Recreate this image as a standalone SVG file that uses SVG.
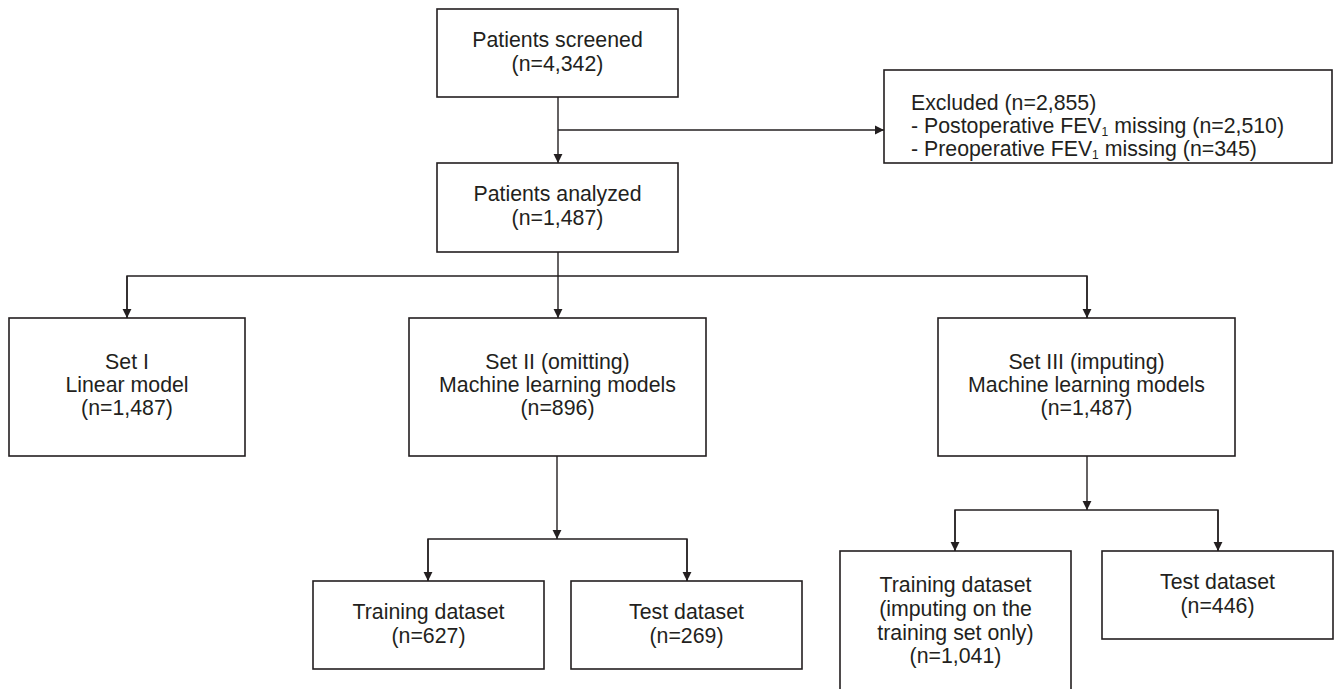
<svg xmlns="http://www.w3.org/2000/svg" width="1335" height="689" viewBox="0 0 1335 689">
<defs>
<style>
.box{fill:#fff;stroke:#231f20;stroke-width:1.6}
.ln{fill:none;stroke:#231f20;stroke-width:1.4}
text{font-family:"Liberation Sans",Arial,sans-serif;font-size:21.3px;fill:#231f20}
.c{text-anchor:middle}
.sub{font-size:12px}
</style>
<marker id="ah" markerWidth="11" markerHeight="11" refX="9.5" refY="5" orient="auto" markerUnits="userSpaceOnUse">
<path d="M0,0.3 L9.5,5 L0,9.7 Z" fill="#231f20"/>
</marker>
</defs>
<rect width="1335" height="689" fill="#fff"/>
<g id="connectors">
<path class="ln" d="M558,97 V163" marker-end="url(#ah)"/>
<path class="ln" d="M558,130 H884" marker-end="url(#ah)"/>
<path class="ln" d="M558,252 V318" marker-end="url(#ah)"/>
<path class="ln" d="M127,318 V276 H1087 V318"/>
<path class="ln" d="M127,276 V318" marker-end="url(#ah)"/>
<path class="ln" d="M1087,276 V318" marker-end="url(#ah)"/>
<path class="ln" d="M557,456 V539" marker-end="url(#ah)"/>
<path class="ln" d="M428,581 V539 H687 V581"/>
<path class="ln" d="M428,539 V581" marker-end="url(#ah)"/>
<path class="ln" d="M687,539 V581" marker-end="url(#ah)"/>
<path class="ln" d="M1087,456 V510" marker-end="url(#ah)"/>
<path class="ln" d="M955,551 V510 H1218 V551"/>
<path class="ln" d="M955,510 V551" marker-end="url(#ah)"/>
<path class="ln" d="M1218,510 V551" marker-end="url(#ah)"/>
</g>
<g id="screened">
<rect class="box" x="437" y="9" width="241" height="88"/>
<text class="c" x="557.5" y="47">Patients screened</text>
<text class="c" x="557.5" y="71">(n=4,342)</text>
</g>
<g id="excluded">
<rect class="box" x="884" y="70" width="448" height="93"/>
<text x="911" y="110">Excluded (n=2,855)</text>
<text x="911" y="133">- Postoperative FEV<tspan class="sub" dy="3">1</tspan><tspan dy="-3"> missing (n=2,510)</tspan></text>
<text x="911" y="156">- Preoperative FEV<tspan class="sub" dy="3">1</tspan><tspan dy="-3"> missing (n=345)</tspan></text>
</g>
<g id="analyzed">
<rect class="box" x="437" y="163" width="241" height="89"/>
<text class="c" x="557.5" y="201">Patients analyzed</text>
<text class="c" x="557.5" y="225">(n=1,487)</text>
</g>
<g id="set1">
<rect class="box" x="9" y="318" width="236" height="138"/>
<text class="c" x="127" y="369">Set I</text>
<text class="c" x="127" y="392">Linear model</text>
<text class="c" x="127" y="415">(n=1,487)</text>
</g>
<g id="set2">
<rect class="box" x="409" y="318" width="297" height="138"/>
<text class="c" x="557.5" y="369">Set II (omitting)</text>
<text class="c" x="557.5" y="392">Machine learning models</text>
<text class="c" x="557.5" y="415">(n=896)</text>
</g>
<g id="set3">
<rect class="box" x="938" y="318" width="297" height="138"/>
<text class="c" x="1086.5" y="369">Set III (imputing)</text>
<text class="c" x="1086.5" y="392">Machine learning models</text>
<text class="c" x="1086.5" y="415">(n=1,487)</text>
</g>
<g id="train2">
<rect class="box" x="313" y="581" width="231" height="88"/>
<text class="c" x="428.5" y="619">Training dataset</text>
<text class="c" x="428.5" y="643">(n=627)</text>
</g>
<g id="test2">
<rect class="box" x="571" y="581" width="231" height="88"/>
<text class="c" x="686.5" y="619">Test dataset</text>
<text class="c" x="686.5" y="643">(n=269)</text>
</g>
<g id="train3">
<rect class="box" x="840" y="551" width="231" height="150"/>
<text class="c" x="955.5" y="592">Training dataset</text>
<text class="c" x="955.5" y="615.5">(imputing on the</text>
<text class="c" x="955.5" y="639.5">training set only)</text>
<text class="c" x="955.5" y="663">(n=1,041)</text>
</g>
<g id="test3">
<rect class="box" x="1102" y="551" width="231" height="88"/>
<text class="c" x="1217.5" y="589">Test dataset</text>
<text class="c" x="1217.5" y="613">(n=446)</text>
</g>
</svg>
